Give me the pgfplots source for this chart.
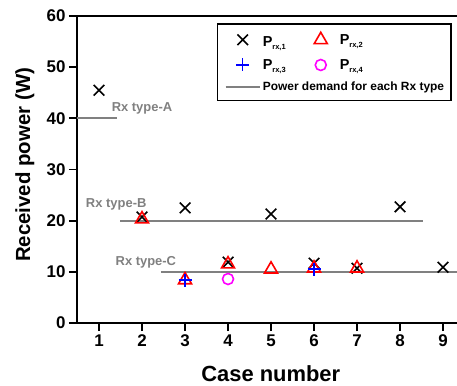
\documentclass[border=0pt]{standalone}
\usepackage{fontspec}
\setmainfont{Liberation Sans}
\usepackage{pgfplots}
\pgfplotsset{compat=1.18}
\definecolor{dgrey}{RGB}{128,128,128}
\definecolor{mag}{RGB}{255,0,255}
\newcommand{\Prx}[1]{{\fontsize{14.5}{15}\selectfont\textbf{P}}\raisebox{-0.5ex}{\fontsize{7.5}{8}\selectfont rx,#1}}
\pgfplotsset{
  markleg/.style={legend image code/.code={\path[draw=none,fill=none] (0,0) -- (34bp,0);\draw[##1] plot coordinates {(17bp,0)};}},
  lineleg/.style={legend image code/.code={\draw[##1] (0,0) -- (34bp,0);}},
}
\begin{document}
\begin{tikzpicture}
\useasboundingbox (-77bp,-63bp) rectangle (380bp,323bp);
\begin{axis}[
  scale only axis, width=380bp, height=307bp,
  xmin=0.488, xmax=9.325, ymin=0, ymax=60,
  axis x line*=bottom, axis y line*=left,
  axis line style={line width=1.8bp, -},
  xtick={1,...,9}, ytick={0,10,...,60},
  tick align=outside, major tick length=8bp,
  tick style={line width=1.8bp, black},
  /pgf/number format/assume math mode=true,
  ticklabel style={font=\fontsize{17}{18}\selectfont\bfseries},
  xlabel={Case number}, ylabel={Received power (W)},
  xlabel style={font=\fontsize{22}{24}\selectfont\bfseries, at={(axis description cs:0.51,0)}, anchor=center, yshift=-51bp},
  ylabel style={font=\fontsize{20.5}{22}\selectfont\bfseries, at={(axis description cs:-0.137,0.515)}, anchor=center},
  clip=false,
  legend columns=2,
  legend style={at={(rel axis cs:0.368,0.977)}, anchor=north west,
    draw=black, line width=1.5bp, font=\fontsize{12}{13}\selectfont\bfseries,
    inner xsep=7bp, inner ysep=6bp, row sep=7.5bp,
    /tikz/every even column/.append style={column sep=0bp}},
  legend cell align=left,
]
\addplot[only marks, mark=x, mark size=7.5bp, black, line width=1.6bp, markleg]
  coordinates {(1,45.5) (2,20.7) (3,22.5) (4,11.9) (5,21.3) (6,11.7) (7,10.7) (8,22.7) (9,10.9)};
\addlegendentry{\makebox[39bp][l]{\rule{0pt}{14.5bp}\Prx{1}}}
\addplot[only marks, mark=triangle, mark size=7.5bp, red, line width=1.6bp, markleg]
  coordinates {(2,20.3) (3,8.4) (4,11.5) (5,10.5) (6,10.7) (7,10.7)};
\addlegendentry{\makebox[102bp][l]{\Prx{2}}}
\addplot[only marks, mark=+, mark size=6.5bp, blue, line width=1.6bp, markleg]
  coordinates {(3,8.4) (6,10.5)};
\addlegendentry{\Prx{3}}
\addplot[only marks, mark=o, mark size=5.5bp, mag, line width=1.6bp, markleg]
  coordinates {(4,8.6)};
\addlegendentry{\Prx{4}}
\addplot[dgrey, line width=2.2bp, lineleg]
  coordinates {(2.44,10) (9.325,10)};
\addlegendentry{\makebox[0pt][l]{Power demand for each Rx type}}
\addplot[dgrey, line width=2.2bp, forget plot] coordinates {(0.488,40) (1.42,40)};
\addplot[dgrey, line width=2.2bp, forget plot] coordinates {(1.49,20) (8.53,20)};
\draw[line width=1.8bp] (rel axis cs:0,1) -- (rel axis cs:1,1);
\node[dgrey, font=\fontsize{13}{14}\selectfont\bfseries] at (axis cs:2.0,42) {Rx type-A};
\node[dgrey, font=\fontsize{13}{14}\selectfont\bfseries] at (axis cs:1.4,23.2) {Rx type-B};
\node[dgrey, font=\fontsize{13}{14}\selectfont\bfseries] at (axis cs:2.09,11.9) {Rx type-C};
\end{axis}
\end{tikzpicture}
\end{document}
